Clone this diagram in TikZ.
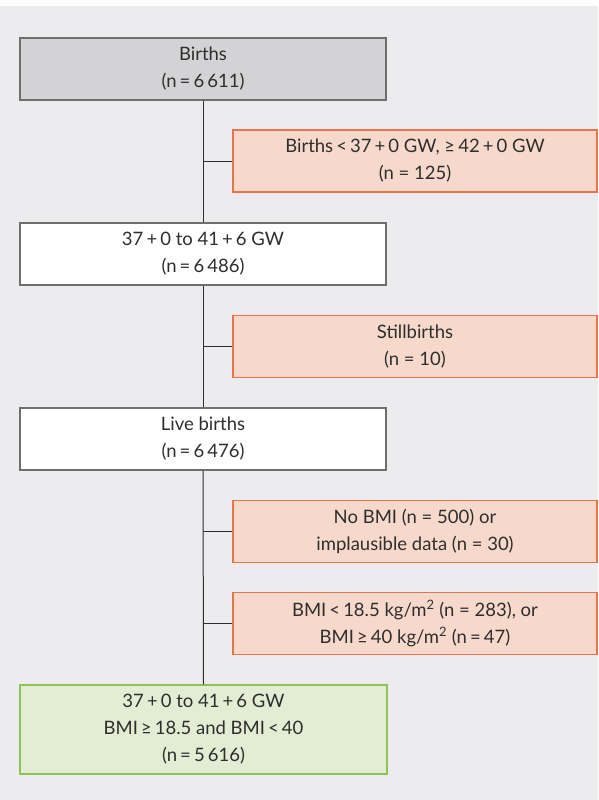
\documentclass[tikz,border=0pt]{standalone}
\usepackage{fontspec}
\setmainfont{Lato}
\definecolor{bg}{HTML}{ECECEE}
\definecolor{txt}{HTML}{2E2E2E}
\definecolor{greyfill}{HTML}{D3D3D5}
\definecolor{greyline}{HTML}{6E6E6E}
\definecolor{orfill}{HTML}{F7D9CB}
\definecolor{orline}{HTML}{E8744D}
\definecolor{grfill}{HTML}{E2EDD4}
\definecolor{grline}{HTML}{8CC456}
\begin{document}
\begin{tikzpicture}[x=1pt,y=-1pt,
  box/.style={draw, line width=1.2pt, inner sep=0pt, align=center, text=txt,
    font=\fontsize{18.5}{27}\selectfont, minimum height=62pt},
  mainbox/.style={box, draw=greyline, fill=white, minimum width=366pt},
  startbox/.style={mainbox, fill=greyfill},
  exclbox/.style={box, draw=orline, fill=orfill, minimum width=364pt},
  endbox/.style={box, draw=grline, fill=grfill, minimum width=367pt, minimum height=89pt},
  conn/.style={draw=txt, line width=1pt}]
\fill[white] (0,0) rectangle (598,800);
\fill[bg] (0,6) rectangle (598,800);
\useasboundingbox (0,0) rectangle (598,800);
\node[startbox] (births) at (203,69) {Births\\(n\,=\,6\,611)};
\node[exclbox] (ex1) at (415,161) {Births\,<\,37\,+\,0 GW, ≥\,42\,+\,0 GW\\(n = 125)};
\node[mainbox] (gw) at (203,254) {37\,+\,0 to 41\,+\,6 GW\\(n\,=\,6\,486)};
\node[exclbox] (ex2) at (415,346.5) {Stillbirths\\(n = 10)};
\node[mainbox] (live) at (203,439) {Live births\\(n\,=\,6\,476)};
\node[exclbox] (ex3) at (415,531.5) {No BMI (n = 500) or\\implausible data (n = 30)};
\node[exclbox] (ex4) at (415,623.5) {BMI\,<\,18.5 kg/m\textsuperscript{2} (n = 283), or\\BMI\,≥\,40 kg/m\textsuperscript{2} (n\,=\,47)};
\node[endbox] (final) at (203.5,729.5) {37\,+\,0 to 41\,+\,6 GW\\BMI\,≥\,18.5 and BMI\,<\,40\\(n\,=\,5\,616)};
\draw[conn] (births.south) -- (gw.north);
\draw[conn] (gw.south) -- (live.north);
\draw[conn] (live.south) -- (final.north);
\draw[conn] (ex1.west) -- (ex1.west -| births.south);
\draw[conn] (ex2.west) -- (ex2.west -| births.south);
\draw[conn] (ex3.west) -- (ex3.west -| births.south);
\draw[conn] (ex4.west) -- (ex4.west -| births.south);
\end{tikzpicture}
\end{document}
